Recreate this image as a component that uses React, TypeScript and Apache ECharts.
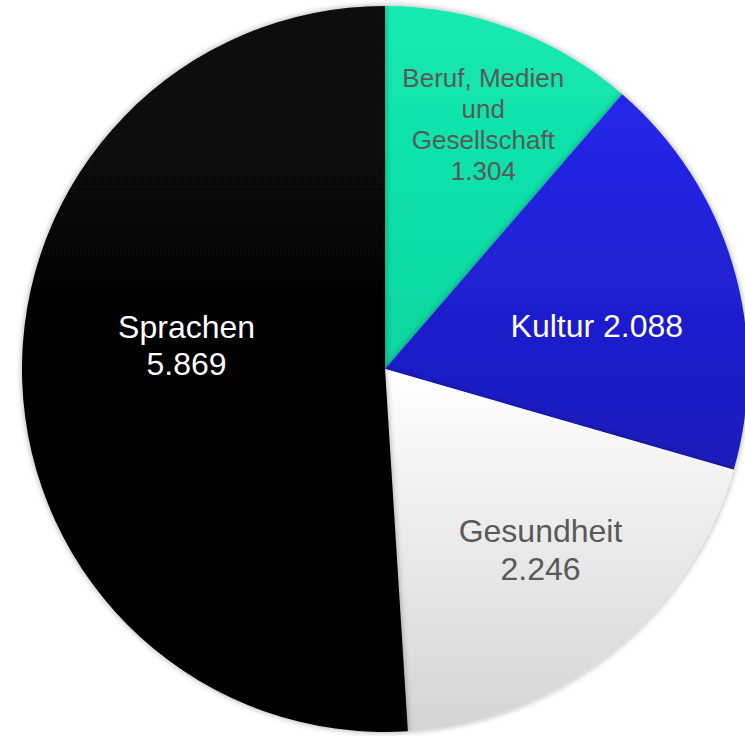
import React, { useEffect, useRef } from "react";
import * as echarts from "echarts";

const categories = ["Beruf, Medien und Gesellschaft", "Kultur", "Gesundheit", "Sprachen"];
const labelNames = ["Beruf, Medien\nund\nGesellschaft", "Kultur", "Gesundheit", "Sprachen"];
const labelSeparators = ["\n", " ", "\n", "\n"];
const values = [1304, 2088, 2246, 5869];

const fmt = (v: number) => String(v).replace(/\B(?=(\d{3})+(?!\d))/g, ".");

const sliceStyles = [
  { top: "#14eab0", bottom: "#0bd6a0", text: "#595959", size: 26, lh: 31, dx: 34, dy: -72 },
  { top: "#2626ea", bottom: "#1a1abc", text: "#ffffff", size: 32, lh: 37, dx: 35, dy: 10 },
  { top: "#ffffff", bottom: "#d4d4d4", text: "#595959", size: 32, lh: 38, dx: 40, dy: 37 },
  { top: "#080808", bottom: "#030303", text: "#ffffff", size: 32, lh: 37, dx: -14, dy: -29 },
];

export default function App() {
  const ref = useRef<HTMLDivElement>(null);
  useEffect(() => {
    if (!ref.current) return;
    const chart = echarts.init(ref.current, null, { renderer: "svg" });
    const data = categories.map((name, i) => {
      const s = sliceStyles[i];
      return {
        name,
        value: values[i],
        itemStyle: {
          color: new echarts.graphic.LinearGradient(0, 0, 0, 1, [
            { offset: 0, color: s.top },
            { offset: 1, color: s.bottom },
          ]),
        },
        label: {
          color: s.text,
          fontSize: s.size,
          lineHeight: s.lh,
        },
      };
    });
    chart.setOption({
      animation: false,
      backgroundColor: "#ffffff",
      series: [
        {
          type: "pie",
          center: [385, 369],
          radius: [0, 363],
          startAngle: 90,
          clockwise: true,
          avoidLabelOverlap: false,
          data,
          itemStyle: {
            borderWidth: 0,
            shadowBlur: 6,
            shadowColor: "rgba(0,0,0,0.35)",
          },
          label: {
            show: true,
            position: "inside",
            fontFamily: "Liberation Sans, Arial, sans-serif",
            align: "center",
            formatter: (p: any) => `${labelNames[p.dataIndex]}${labelSeparators[p.dataIndex]}${fmt(p.value)}`,
          },
          labelLine: { show: false },
          labelLayout: (p: any) => ({
            dx: sliceStyles[p.dataIndex].dx,
            dy: sliceStyles[p.dataIndex].dy,
          }),
          emphasis: { disabled: true },
        },
      ],
    });
    return () => chart.dispose();
  }, []);
  return (
    <div
      ref={ref}
      style={{ position: "fixed", left: 0, top: 0, width: 745, height: 736 }}
    />
  );
}
